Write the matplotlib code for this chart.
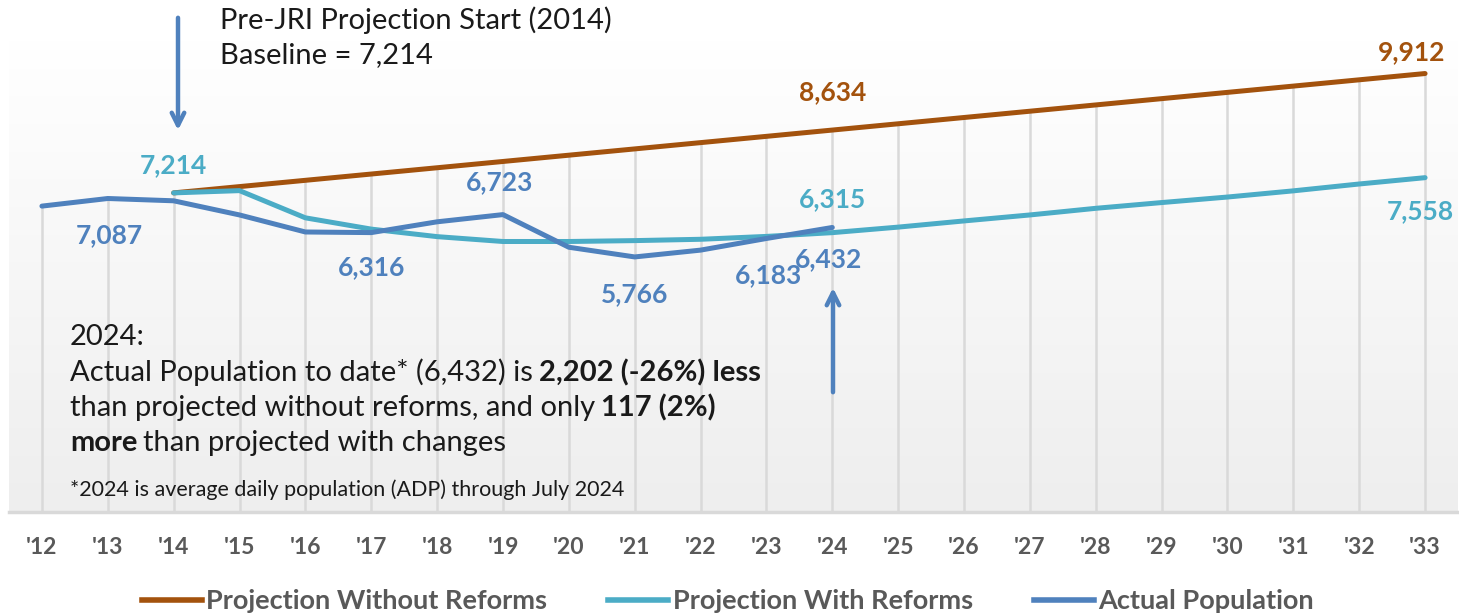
import matplotlib
matplotlib.use("Agg")
import matplotlib.pyplot as plt
from matplotlib.colors import LinearSegmentedColormap
from matplotlib.lines import Line2D
import numpy as np

plt.rcParams['font.family'] = ['Lato', 'DejaVu Sans']

# categories '12 .. '33
years = ["'12", "'13", "'14", "'15", "'16", "'17", "'18", "'19", "'20", "'21", "'22",
         "'23", "'24", "'25", "'26", "'27", "'28", "'29", "'30", "'31", "'32", "'33"]

# projection without reforms starts at '14
without_reforms = [7214, 7356, 7498, 7640, 7782, 7924, 8066, 8208, 8350, 8492, 8634,
                   8776, 8918, 9060, 9202, 9344, 9486, 9628, 9770, 9912]
# projection with reforms starts at '14
with_reforms = [7214, 7265, 6650, 6395, 6225, 6115, 6115, 6135, 6165, 6230, 6315,
                6440, 6580, 6715, 6865, 6995, 7120, 7260, 7415, 7558]
# actual population '12 .. '24
actual = [6915, 7087, 7035, 6715, 6330, 6316, 6560, 6723, 5985, 5766, 5920, 6183, 6432]

c_orange = '#a3520d'
c_teal = '#4bacc6'
c_blue = '#4f81bd'
c_grey = '#595959'

x_all = np.arange(len(years))
x_proj = x_all[2:]
x_act = x_all[:len(actual)]

fig = plt.figure(figsize=(14.59, 6.16), dpi=100)
ax = fig.add_axes([9 / 1459, 1 - 512 / 616, 1449 / 1459, 472 / 616])
ymax = 10670
ax.set_xlim(-0.5, len(years) - 0.5)
ax.set_ylim(0, ymax)

# background gradient of the plot area
grad = LinearSegmentedColormap.from_list('bg', ['#ffffff', '#eeeeee'])
ax.imshow(np.linspace(0, 1, 256).reshape(-1, 1), cmap=grad, aspect='auto',
          extent=[-0.5, len(years) - 0.5, 0, ymax], zorder=0, origin='upper')

# drop lines from the highest series to the axis
tops = []
for i in range(len(years)):
    vals = []
    if i < len(actual):
        vals.append(actual[i])
    if i >= 2:
        vals.append(without_reforms[i - 2])
        vals.append(with_reforms[i - 2])
    tops.append(max(vals))
ax.vlines(x_all, 0, tops, color='#d9d9d9', lw=1.8, zorder=1)

ax.plot(x_proj, without_reforms, color=c_orange, lw=3.6, solid_capstyle='round', zorder=3)
ax.plot(x_proj, with_reforms, color=c_teal, lw=3.6, solid_capstyle='round', zorder=3)
ax.plot(x_act, actual, color=c_blue, lw=3.6, solid_capstyle='round', zorder=4)

# data labels
labels = [
    (x_act, actual, 1, (2, -37), c_blue),
    (x_proj, with_reforms, 0, (0, 28), c_teal),
    (x_act, actual, 5, (0, -35), c_blue),
    (x_act, actual, 7, (-3, 32), c_blue),
    (x_act, actual, 9, (0, -37), c_blue),
    (x_act, actual, 11, (2, -37), c_blue),
    (x_act, actual, 12, (-4, -32), c_blue),
    (x_proj, with_reforms, 10, (0, 34), c_teal),
    (x_proj, without_reforms, 10, (0, 38), c_orange),
    (x_proj, without_reforms, 19, (-13, 21), c_orange),
    (x_proj, with_reforms, 19, (-5, -33), c_teal),
]
for xs, ys, i, off, col in labels:
    ax.annotate(f"{ys[i]:,}", (xs[i], ys[i]), xytext=off, textcoords='offset pixels',
                ha='center', va='center', fontsize=19, fontweight='bold', color=col, zorder=6)

ax.set_xticks(x_all)
ax.set_xticklabels(years, fontsize=16.5, fontweight='bold', color=c_grey)
ax.tick_params(axis='x', length=0, pad=18)
ax.set_yticks([])
for s in ['top', 'left', 'right']:
    ax.spines[s].set_visible(False)
ax.spines['bottom'].set_color('#d9d9d9')
ax.spines['bottom'].set_linewidth(2.5)

# arrows
arrow_kw = dict(arrowstyle='->,head_length=0.9,head_width=0.45', color=c_blue, lw=3.2)
fig_y = lambda p: 1 - p / 616
fig_x = lambda p: p / 1459
ax.annotate('', xy=(fig_x(178), fig_y(133)), xytext=(fig_x(178), fig_y(15)),
            xycoords='figure fraction', arrowprops=arrow_kw, annotation_clip=False)
ax.annotate('', xy=(fig_x(833), fig_y(285)), xytext=(fig_x(833), fig_y(395)),
            xycoords='figure fraction', arrowprops=arrow_kw, annotation_clip=False)

txt = '#1a1a1a'
fig.text(fig_x(220), fig_y(20), 'Pre-JRI Projection Start (2014)', fontsize=21, color=txt, va='center')
fig.text(fig_x(220), fig_y(55), 'Baseline = 7,214', fontsize=21, color=txt, va='center')


def runs(x, y, parts, size=21):
    prev = None
    for s, bold in parts:
        w = 'bold' if bold else 'normal'
        if prev is None:
            prev = fig.text(fig_x(x), fig_y(y), s, fontsize=size, fontweight=w, color=txt,
                            va='bottom', ha='left')
        else:
            prev = ax.annotate(s, xy=(1, 0), xycoords=prev, xytext=(6, 0),
                               textcoords='offset pixels', fontsize=size, fontweight=w,
                               color=txt, va='bottom', ha='left', annotation_clip=False)


runs(70, 350, [('2024:', False)])
runs(70, 386, [('Actual Population to date* (6,432) is', False), ('2,202 (-26%) less', True)])
runs(70, 421, [('than projected without reforms, and only', False), ('117 (2%)', True)])
runs(70, 456, [('more', True), ('than projected with changes', False)])
fig.text(fig_x(70), fig_y(490), '*2024 is average daily population (ADP) through July 2024',
         fontsize=15.5, color=txt, va='center')

handles = [Line2D([], [], color=c, lw=4) for c in (c_orange, c_teal, c_blue)]
fig.legend(handles, ['Projection Without Reforms', 'Projection With Reforms', 'Actual Population'],
           loc='center', bbox_to_anchor=(728 / 1459, 1 - 601 / 616), ncol=3, frameon=False,
           prop={'size': 19.5, 'weight': 'bold'}, labelcolor=c_grey, handlelength=2.2,
           handletextpad=0.18, columnspacing=2.25)

fig.savefig('out.png', dpi=100)
